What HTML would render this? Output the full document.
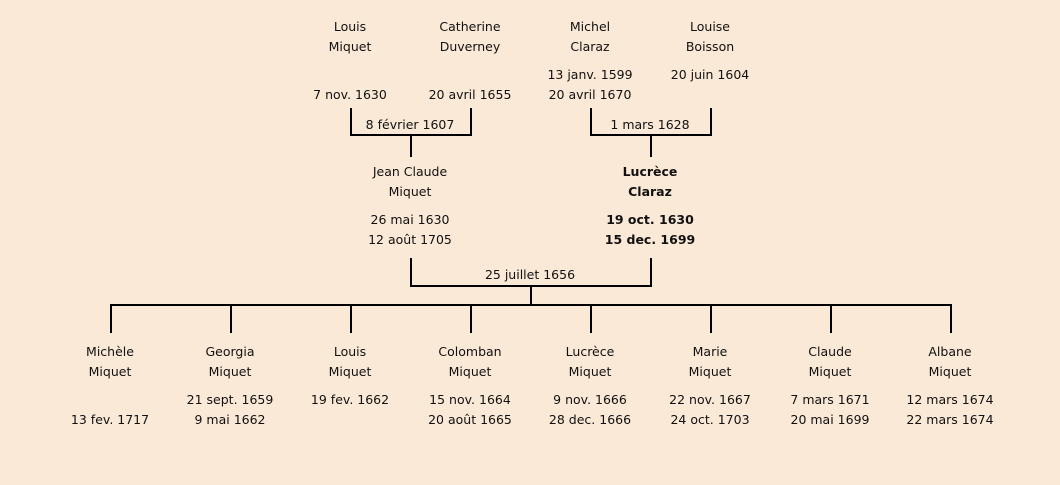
<!DOCTYPE html>
<html><head><meta charset="utf-8"><style>
body{margin:0;width:1060px;height:485px;background:#fbe9d7;position:relative;overflow:hidden;font-family:"DejaVu Sans","Liberation Sans",sans-serif;font-size:12.5px;color:#111}
.t{position:absolute;width:160px;margin-left:-80px;text-align:center;line-height:20px;white-space:nowrap}
.b{font-weight:bold}
svg{position:absolute;left:0;top:0}
</style></head><body>
<svg width="1060" height="485"><g stroke="#000" stroke-width="2" fill="none">
<path d="M351 108V135H471V108M411 135V157"/>
<path d="M591 108V135H711V108M651 135V157"/>
<path d="M411 258V286H651V258M531 286V305"/>
<path d="M111 333V305H951V333M231 305V333M351 305V333M471 305V333M591 305V333M711 305V333M831 305V333"/>
</g></svg>
<div class="t" style="left:350px;top:17px">Louis<br>Miquet</div>
<div class="t" style="left:470px;top:17px">Catherine<br>Duverney</div>
<div class="t" style="left:590px;top:17px">Michel<br>Claraz</div>
<div class="t" style="left:710px;top:17px">Louise<br>Boisson</div>
<div class="t" style="left:350px;top:85px">7 nov. 1630</div>
<div class="t" style="left:470px;top:85px">20 avril 1655</div>
<div class="t" style="left:590px;top:65px">13 janv. 1599<br>20 avril 1670</div>
<div class="t" style="left:710px;top:65px">20 juin 1604</div>
<div class="t" style="left:410px;top:115px">8 février 1607</div>
<div class="t" style="left:650px;top:115px">1 mars 1628</div>
<div class="t" style="left:410px;top:162px">Jean Claude<br>Miquet</div>
<div class="t" style="left:410px;top:210px">26 mai 1630<br>12 août 1705</div>
<div class="t b" style="left:650px;top:162px">Lucrèce<br>Claraz</div>
<div class="t b" style="left:650px;top:210px">19 oct. 1630<br>15 dec. 1699</div>
<div class="t" style="left:530px;top:265px">25 juillet 1656</div>
<div class="t" style="left:110px;top:342px">Michèle<br>Miquet</div>
<div class="t" style="left:110px;top:410px">13 fev. 1717</div>
<div class="t" style="left:230px;top:342px">Georgia<br>Miquet</div>
<div class="t" style="left:230px;top:390px">21 sept. 1659<br>9 mai 1662</div>
<div class="t" style="left:350px;top:342px">Louis<br>Miquet</div>
<div class="t" style="left:350px;top:390px">19 fev. 1662</div>
<div class="t" style="left:470px;top:342px">Colomban<br>Miquet</div>
<div class="t" style="left:470px;top:390px">15 nov. 1664<br>20 août 1665</div>
<div class="t" style="left:590px;top:342px">Lucrèce<br>Miquet</div>
<div class="t" style="left:590px;top:390px">9 nov. 1666<br>28 dec. 1666</div>
<div class="t" style="left:710px;top:342px">Marie<br>Miquet</div>
<div class="t" style="left:710px;top:390px">22 nov. 1667<br>24 oct. 1703</div>
<div class="t" style="left:830px;top:342px">Claude<br>Miquet</div>
<div class="t" style="left:830px;top:390px">7 mars 1671<br>20 mai 1699</div>
<div class="t" style="left:950px;top:342px">Albane<br>Miquet</div>
<div class="t" style="left:950px;top:390px">12 mars 1674<br>22 mars 1674</div>
</body></html>
